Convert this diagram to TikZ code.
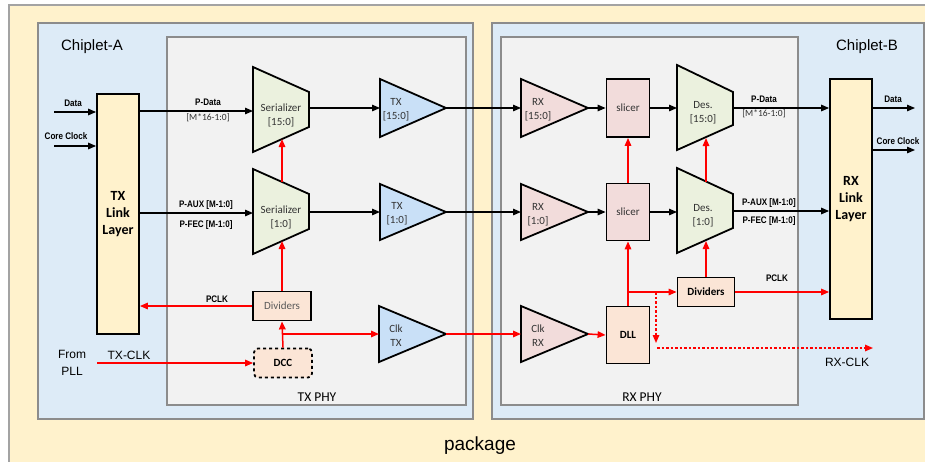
\documentclass[tikz,border=0pt]{standalone}
\usepackage{fontspec}
\setmainfont{Carlito}
\newfontfamily\arialf{Liberation Sans}
\newfontfamily\narrowf[FakeStretch=0.85]{Liberation Sans}
\usetikzlibrary{arrows.meta}
\definecolor{pkgc}{HTML}{FFF2CC}
\definecolor{chipc}{HTML}{DDEBF7}
\definecolor{phyc}{HTML}{F2F2F2}
\definecolor{framec}{HTML}{8C8C8C}
\definecolor{greenc}{HTML}{EBF1DE}
\definecolor{bluec}{HTML}{C9E0F7}
\definecolor{pinkc}{HTML}{F2DCDB}
\definecolor{peachc}{HTML}{FBE5D6}
\definecolor{redc}{HTML}{FF0000}
\definecolor{grayt}{HTML}{595959}
\definecolor{darkt}{HTML}{333333}
\begin{document}
\begin{tikzpicture}[x=1pt,y=-1pt,
  frame/.style={draw=framec,line width=1.8pt},
  blk/.style={draw=black,line width=1.8pt},
  link/.style={blk,fill=pkgc,minimum width=42pt,minimum height=240pt,align=center,inner sep=0pt,
     font=\fontsize{14}{17}\selectfont\bfseries},
  box/.style={blk,inner sep=0pt,align=center,text=darkt,font=\fontsize{11}{14}\selectfont},
  lbl/.style={inner sep=0pt,align=center,text=darkt,font=\fontsize{11}{14}\selectfont},
  tip/.style={-{Triangle[length=8pt,width=6.5pt]}},
  wire/.style={draw=black,line width=1.3pt,tip},
  rwire/.style={draw=redc,line width=1.5pt},
  rarrow/.style={rwire,tip},
  wl/.style={inner sep=0pt,font=\narrowf\bfseries\fontsize{9.5}{11}\selectfont},
  bl/.style={inner sep=0pt,font=\fontsize{9.5}{11}\selectfont,text=darkt},
  big/.style={inner sep=0pt,font=\arialf\fontsize{15}{18}\selectfont},
  mid/.style={inner sep=0pt,font=\arialf\fontsize{12}{16}\selectfont,align=center}
]
\useasboundingbox (0,0) rectangle (925,461);
\clip (0,0) rectangle (925,461);
\fill[white] (0,0) rectangle (925,461);
% containers
\draw[draw=framec!80,line width=1.5pt,fill=pkgc] (9,5) rectangle (960,490);
\draw[frame,fill=chipc] (38,23) rectangle (473,419);
\draw[frame,fill=chipc] (492,23) rectangle (924,419);
\draw[frame,fill=phyc] (167,37) rectangle (466,405);
\draw[frame,fill=phyc] (501,37) rectangle (798,405);
\node[big] (chipA) at (92,47) {Chiplet-A};
\node[big] (chipB) at (867,47) {Chiplet-B};
\node[lbl,text=black,font=\fontsize{13.5}{16}\selectfont] (txphy) at (317,397) {TX PHY};
\node[lbl,text=black,font=\fontsize{13.5}{16}\selectfont] (rxphy) at (642,397) {RX PHY};
\node[inner sep=0pt,font=\arialf\fontsize{19}{22}\selectfont] (pkg) at (480,446) {package};

% link layers
\node[link] (txl) at (118,214) {TX\\Link\\Layer};
\node[link] (rxl) at (851,199) {RX\\Link\\Layer};

% serializers
\draw[blk,fill=greenc] (253,67) -- (309,92) -- (309,127) -- (253,152) -- cycle;
\node[lbl] (ser15) at (281,115) {Serializer\\{[15:0]}};
\draw[blk,fill=greenc] (253,169) -- (309,194) -- (309,229) -- (253,254) -- cycle;
\node[lbl] (ser1) at (281,217) {Serializer\\{[1:0]}};
\coordinate (s15in) at (253,111);
\coordinate (s15out) at (309,108);
\coordinate (s15bot) at (282,139);
\coordinate (s1in) at (253,213);
\coordinate (s1out) at (309,212);
\coordinate (s1top) at (282,182);
\coordinate (s1bot) at (282,241);

% TX drivers
\draw[blk,fill=bluec] (380,79) -- (446,108) -- (380,137) -- cycle;
\node[lbl] (tx15) at (396,110) {TX\\{[15:0]}};
\draw[blk,fill=bluec] (380,184) -- (446,212) -- (380,240) -- cycle;
\node[lbl] (tx1) at (397,214) {TX\\{[1:0]}};
\draw[blk,fill=bluec] (379,306) -- (446,334) -- (379,362) -- cycle;
\node[lbl] (clktx) at (396,336) {Clk\\TX};
\coordinate (t15in) at (380,108);
\coordinate (t15out) at (446,108);
\coordinate (t1in) at (380,212);
\coordinate (t1out) at (446,212);
\coordinate (ctin) at (379,334);
\coordinate (ctout) at (446,334);

% RX receivers
\draw[blk,fill=pinkc] (521,79) -- (588,108) -- (521,137) -- cycle;
\node[lbl] (rx15) at (538,110) {RX\\{[15:0]}};
\draw[blk,fill=pinkc] (521,184) -- (588,212) -- (521,240) -- cycle;
\node[lbl] (rx1) at (538,215) {RX\\{[1:0]}};
\draw[blk,fill=pinkc] (521,306) -- (588,334) -- (521,362) -- cycle;
\node[lbl] (clkrx) at (538,336) {Clk\\RX};
\coordinate (r15in) at (521,108);
\coordinate (r15out) at (588,108);
\coordinate (r1in) at (521,212);
\coordinate (r1out) at (588,212);
\coordinate (crin) at (521,334);
\coordinate (crout) at (588,334);

% slicers, DLL
\node[box,fill=pinkc,minimum width=43pt,minimum height=58pt] (sl1) at (628,108) {slicer};
\node[box,fill=pinkc,minimum width=43pt,minimum height=57pt] (sl2) at (628,212) {slicer};
\node[box,fill=peachc,minimum width=43pt,minimum height=57pt,text=black,font=\fontsize{11}{14}\selectfont\bfseries] (dll) at (628,335) {DLL};

% deserializers
\draw[blk,fill=greenc] (677,65) -- (733,92) -- (733,125) -- (677,150) -- cycle;
\node[lbl] (des15) at (703,113) {Des.\\{[15:0]}};
\draw[blk,fill=greenc] (677,168) -- (733,194) -- (733,228) -- (677,253) -- cycle;
\node[lbl] (des1) at (703,216) {Des.\\{[1:0]}};
\coordinate (d15in) at (677,108);
\coordinate (d15out) at (733,108);
\coordinate (d15bot) at (706,138);
\coordinate (d1in) at (677,212);
\coordinate (d1out) at (733,211);
\coordinate (d1top) at (706,182);
\coordinate (d1bot) at (706,241);

% dividers, DCC
\node[box,fill=peachc,minimum width=58pt,minimum height=29pt,text=grayt] (txdiv) at (282,306) {Dividers};
\node[draw=black,line width=1.8pt,dashed,rounded corners=4pt,fill=peachc,minimum width=58pt,minimum height=29pt,
  inner sep=0pt,font=\fontsize{11}{14}\selectfont\bfseries] (dcc) at (283,363) {DCC};
\node[box,fill=peachc,minimum width=57pt,minimum height=29pt,text=black,font=\fontsize{11}{14}\selectfont\bfseries] (rxdiv) at (706,292) {Dividers};

% black data wires
\coordinate (dinA) at (54,112);
\coordinate (ccinA) at (54,146);
\draw[wire] (dinA) -- (dinA -| txl.west);
\draw[wire] (ccinA) -- (ccinA -| txl.west);
\node[wl] (ldA) at (73,103) {Data};
\node[wl] (lccA) at (66,136) {Core Clock};
\draw[wire] (txl.east |- s15in) -- (s15in);
\draw[wire] (txl.east |- s1in) -- (s1in);
\node[wl] (lpd) at (208,102) {P-Data};
\node[bl] (lpdb) at (208,118) {[M*16-1:0]};
\node[wl] (lpaux) at (206,205) {P-AUX [M-1:0]};
\node[wl] (lpfec) at (206,225) {P-FEC [M-1:0]};
\draw[wire] (s15out) -- (t15in);
\draw[wire] (s1out) -- (t1in);
\draw[wire] (t15out) -- (r15in);
\draw[wire] (t1out) -- (r1in);
\draw[wire] (r15out) -- (sl1.west);
\draw[wire] (r1out) -- (sl2.west);
\draw[wire] (sl1.east) -- (d15in);
\draw[wire] (sl2.east) -- (d1in);
\draw[wire] (d15out) -- (d15out -| rxl.west);
\draw[wire] (d1out) -- (d1out -| rxl.west);
\node[wl] (rpd) at (764,99) {P-Data};
\node[bl] (rpdb) at (764,114) {[M*16-1:0]};
\node[wl] (rpaux) at (769,203) {P-AUX [M-1:0]};
\node[wl] (rpfec) at (769,221) {P-FEC [M-1:0]};
\coordinate (doutB) at (915,108);
\coordinate (ccoutB) at (915,150);
\draw[wire] (rxl.east |- doutB) -- (doutB);
\draw[wire] (rxl.east |- ccoutB) -- (ccoutB);
\node[wl] (ldB) at (893,99) {Data};
\node[wl] (lccB) at (898,141) {Core Clock};

% red clock wires
\draw[rarrow] (s1top) -- (s15bot);
\draw[rarrow] (txdiv.north) -- (s1bot);
\draw[rarrow] (txdiv.west) -- (txdiv.west -| txl.east);
\node[wl] (lpclkA) at (217,299) {PCLK};
\coordinate (pll) at (97,363);
\draw[rarrow] (pll) -- (dcc.west);
\node[mid] (txclk) at (129,355) {TX-CLK};
\node[mid,font=\arialf\fontsize{12}{17}\selectfont] (from) at (72,363) {From\\PLL};
\draw[rarrow] (dcc.north) -- (txdiv.south);
\coordinate (brA) at (283,334);
\draw[rarrow] (brA) -- (ctin);
\draw[rarrow] (ctout) -- (crin);
\draw[rarrow] (crout) -- (dll.west);
\draw[rarrow] (dll.north) -- (sl2.south);
\draw[rarrow] (sl2.north) -- (sl1.south);
\coordinate (brB) at (628,292);
\draw[rarrow] (brB) -- (rxdiv.west);
\draw[rarrow] (rxdiv.north) -- (d1bot);
\draw[rarrow] (d1top) -- (d15bot);
\draw[rarrow] (rxdiv.east) -- (rxdiv.east -| rxl.west);
\node[wl] (lpclkB) at (777,278) {PCLK};
\coordinate (dotA) at (656,292);
\coordinate (dotB) at (656,343);
\coordinate (dotC) at (657,348);
\coordinate (rxclk) at (873,348);
\draw[rarrow,dash pattern=on 2.5pt off 2pt] (dotA) -- (dotB);
\draw[rarrow,dash pattern=on 2.5pt off 2pt] (dotC) -- (rxclk);
\node[mid] (lrxclk) at (847,362) {RX-CLK};
\end{tikzpicture}
\end{document}
